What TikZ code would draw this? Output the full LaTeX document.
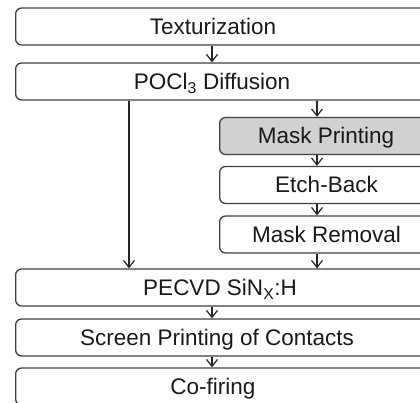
\documentclass[tikz,border=0pt]{standalone}
\usepackage{fontspec}
\setmainfont{Liberation Sans}
\usetikzlibrary{arrows.meta}
\begin{document}
\begin{tikzpicture}[x=1pt,y=-1pt,
  stage/.style={draw=black!75, line width=1.3pt, rounded corners=6pt,
    minimum height=37pt, inner sep=0pt, anchor=west},
  wide/.style={stage, minimum width=440pt},
  narrow/.style={stage, minimum width=230pt},
  masked/.style={narrow, fill=black!18},
  caption/.style={anchor=base, inner sep=0pt, text=black!90,
    font=\fontsize{22.5}{26}\selectfont},
  flow/.style={draw=black!85, line width=1.2pt,
    -{Straight Barb[length=7pt,width=11pt,line width=1.2pt]}}]
\useasboundingbox (0,0) rectangle (420,403);
\clip (0,0) rectangle (420,403);

% columns used by the connectors
\coordinate (colA) at (129,0);
\coordinate (colM) at (212,0);
\coordinate (colB) at (317,0);

% main process line
\node[wide] (tex) at (15,26.5) {};
\node[caption] (texT) at (213,34.5) {Texturization};
\node[wide] (pocl) at (15,81.5) {};
\node[caption] (poclT) at (212,89.5) {POCl\textsubscript{3} Diffusion};

% selective emitter branch
\node[masked] (mask) at (219,136) {};
\node[caption] (maskT) at (326,144) {Mask Printing};
\node[narrow] (etch) at (219,185) {};
\node[caption] (etchT) at (326.5,193) {Etch-Back};
\node[narrow] (remv) at (219,234.5) {};
\node[caption] (remvT) at (326.5,242.5) {Mask Removal};

% rest of the main line
\node[wide] (pecvd) at (15,287.5) {};
\node[caption] (pecvdT) at (220,295.5) {PECVD SiN\textsubscript{X}:H};
\node[wide] (scr) at (15,337.5) {};
\node[caption] (scrT) at (217,345.5) {Screen Printing of Contacts};
\node[wide] (fire) at (15,386.5) {};
\node[caption] (fireT) at (213,394.5) {Co-firing};

% connectors
\draw[flow] (tex.south -| colM) -- (pocl.north -| colM);
\draw[flow] (pocl.south -| colA) -- (pecvd.north -| colA);
\draw[flow] (pocl.south -| colB) -- (mask.north -| colB);
\draw[flow] (mask.south -| colB) -- (etch.north -| colB);
\draw[flow] (etch.south -| colB) -- (remv.north -| colB);
\draw[flow] (remv.south -| colB) -- (pecvd.north -| colB);
\draw[flow] (pecvd.south -| colM) -- (scr.north -| colM);
\draw[flow] (scr.south -| colM) -- (fire.north -| colM);
\end{tikzpicture}
\end{document}
